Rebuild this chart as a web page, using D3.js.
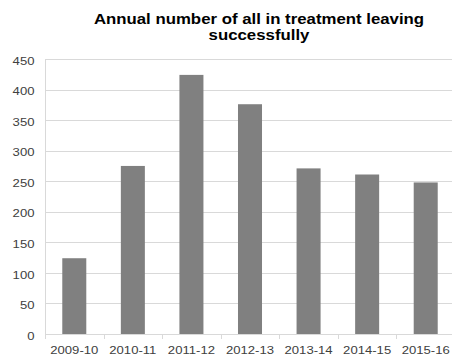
<!DOCTYPE html>
<html>
<head>
<meta charset="utf-8">
<script src="https://cdn.jsdelivr.net/npm/d3@7"></script>
<style>
  html, body { margin: 0; padding: 0; background: #fff; }
  svg { display: block; font-family: "Liberation Sans", Arial, sans-serif; }
</style>
</head>
<body>
<svg id="chart" width="452" height="363"></svg>
<script>
// Annual counts of people leaving treatment successfully
const years = ["2009-10", "2010-11", "2011-12", "2012-13", "2013-14", "2014-15", "2015-16"];
const leavers = [124, 275, 424, 376, 271, 261, 248];
const yTicks = [0, 50, 100, 150, 200, 250, 300, 350, 400, 450];
const titleLines = ["Annual number of all in treatment leaving", "successfully"];

const svg = d3.select("#chart");
const margin = { left: 45, right: -3, top: 59, bottom: 29 };
const W = 452, H = 363;
const labelStretch = 1.14;   // labels are set slightly wide
const titleStretch = 1.2;

const x = d3.scaleBand()
  .domain(years)
  .range([margin.left, W - margin.right])
  .paddingInner(0.59)
  .paddingOuter(0.295);

const y = d3.scaleLinear()
  .domain([0, 450])
  .range([H - margin.bottom, margin.top]);

// Horizontal gridlines
svg.append("g")
  .selectAll("line")
  .data(yTicks)
  .join("line")
  .attr("x1", margin.left)
  .attr("x2", W - margin.right)
  .attr("y1", d => Math.round(y(d)) + 0.5)
  .attr("y2", d => Math.round(y(d)) + 0.5)
  .attr("stroke", "#d9d9d9")
  .attr("stroke-width", 1);

// Left edge of the plot area
svg.append("line")
  .attr("x1", margin.left + 0.5).attr("x2", margin.left + 0.5)
  .attr("y1", Math.round(y(450))).attr("y2", Math.round(y(0)) + 1)
  .attr("stroke", "#d9d9d9");

// Y axis labels
const yAxis = d3.axisLeft(y).tickValues(yTicks).tickSize(0).tickPadding(0);
svg.append("g")
  .attr("transform", `translate(${margin.left},0)`)
  .call(yAxis)
  .call(g => g.select(".domain").remove())
  .call(g => g.selectAll("text")
    .attr("x", 0)
    .attr("transform", `translate(-10.5,1.5) scale(${labelStretch},1)`)
    .attr("font-size", 11.5)
    .attr("fill", "#404040")
    .attr("font-family", "Liberation Sans, Arial, sans-serif"));

// Bars
svg.append("g")
  .selectAll("rect")
  .data(years.map((yr, i) => ({ yr, v: leavers[i] })))
  .join("rect")
  .attr("x", d => x(d.yr))
  .attr("width", x.bandwidth())
  .attr("y", d => y(d.v))
  .attr("height", d => y(0) - y(d.v))
  .attr("fill", "#808080");

// X axis with ticks at category boundaries
const step = x.step();
const boundaries = d3.range(years.length + 1).map(i => margin.left + i * step);
const xg = svg.append("g");
xg.append("line")
  .attr("x1", margin.left).attr("x2", W - margin.right)
  .attr("y1", Math.round(y(0)) + 0.5).attr("y2", Math.round(y(0)) + 0.5)
  .attr("stroke", "#d9d9d9");
xg.selectAll("line.tick")
  .data(boundaries)
  .join("line")
  .attr("class", "tick")
  .attr("x1", d => Math.round(d) + 0.5).attr("x2", d => Math.round(d) + 0.5)
  .attr("y1", Math.round(y(0))).attr("y2", Math.round(y(0)) + 5)
  .attr("stroke", "#d9d9d9");
xg.selectAll("text")
  .data(years)
  .join("text")
  .attr("transform", d => `translate(${x(d) + x.bandwidth() / 2},354) scale(${labelStretch},1)`)
  .attr("text-anchor", "middle")
  .attr("font-size", 11.5)
  .attr("fill", "#404040")
  .text(d => d);

// Title, two centred lines
svg.append("g")
  .selectAll("text")
  .data(titleLines)
  .join("text")
  .attr("transform", (d, i) => `translate(259,${i === 0 ? 24.3 : 40}) scale(${titleStretch},1)`)
  .attr("text-anchor", "middle")
  .attr("font-size", 14)
  .attr("font-weight", "bold")
  .attr("fill", "#000")
  .text(d => d);
</script>
</body>
</html>
